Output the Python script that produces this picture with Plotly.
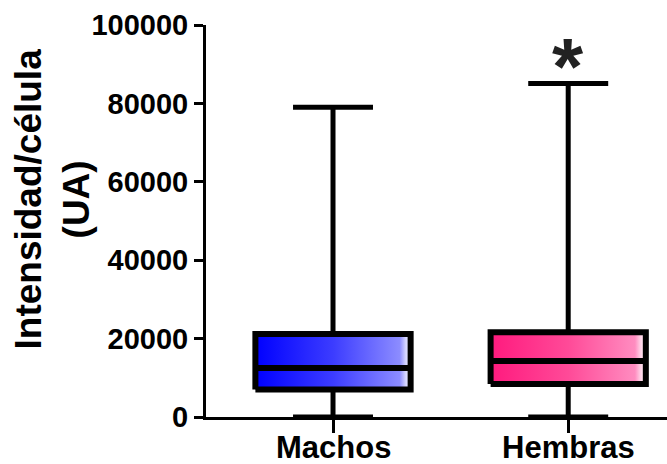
import plotly.graph_objects as go

categories = ["Machos", "Hembras"]
minimum = [0, 0]
q1 = [7000, 8400]
median = [12500, 14300]
q3 = [21200, 21600]
maximum = [79000, 85100]
y_ticks = [0, 20000, 40000, 60000, 80000, 100000]
significance = ["", "*"]

colorscales = [
    [[0, "#0000ff"], [0.5, "#3c3cff"], [0.93, "#8c8cff"], [0.97, "#d8d8ff"], [1, "#e8e8ff"]],
    [[0, "#ff1a7e"], [0.5, "#ff4a98"], [0.93, "#ff8cc0"], [0.97, "#ffd8ea"], [1, "#ffe8f2"]],
]

HALF = 0.33   # box half width (x units)
CAP = 0.17    # whisker cap half width
FONT = "Liberation Sans"

fig = go.Figure()
for i, cat in enumerate(categories):
    x0, x1 = i - HALF, i + HALF
    # gradient fill
    fig.add_trace(go.Scatter(
        x=[x0, x1, x1, x0, x0], y=[q1[i], q1[i], q3[i], q3[i], q1[i]],
        mode="lines", line=dict(width=0), fill="toself",
        fillgradient=dict(type="horizontal", colorscale=colorscales[i]),
        hoverinfo="skip", showlegend=False))
    # whiskers and caps
    fig.add_trace(go.Scatter(
        x=[i, i, None, i, i, None, i - CAP, i + CAP, None, i - CAP, i + CAP],
        y=[q3[i], maximum[i], None, q1[i], minimum[i], None,
           maximum[i], maximum[i], None, minimum[i], minimum[i]],
        mode="lines", line=dict(color="black", width=5),
        hoverinfo="skip", showlegend=False))
    # box outline and median
    fig.add_trace(go.Scatter(
        x=[x0, x1, x1, x0, x0, None, x0, x1],
        y=[q1[i], q1[i], q3[i], q3[i], q1[i], None, median[i], median[i]],
        mode="lines", line=dict(color="black", width=6),
        hoverinfo="skip", showlegend=False))
    # category label
    fig.add_annotation(x=i, y=0, xref="x", yref="paper", text="<b>%s</b>" % cat,
                       showarrow=False, xanchor="center", yanchor="top", yshift=-12,
                       borderpad=0,
                       font=dict(size=31, color="black", family=FONT))
    if significance[i]:
        fig.add_annotation(x=i, y=maximum[i], text="<b>%s</b>" % significance[i],
                           showarrow=False, xanchor="center", yanchor="bottom", yshift=-30,
                           font=dict(size=80, color="#222", family=FONT))

fig.add_annotation(xref="paper", yref="paper", x=-0.334, y=0.555,
                   xanchor="center", yanchor="middle",
                   text="<b>Intensidad/célula<br>(UA)</b>", textangle=-90,
                   showarrow=False, font=dict(size=37, color="black", family=FONT))

fig.update_layout(
    width=667, height=464,
    margin=dict(l=206, r=0, t=25, b=47, autoexpand=False),
    paper_bgcolor="white", plot_bgcolor="white",
    font=dict(family=FONT, color="black"),
    xaxis=dict(range=[-0.54, 1.42], tickvals=[0, 1], showticklabels=False,
               ticks="outside", ticklen=13, tickwidth=3, tickcolor="black",
               showline=True, linewidth=3, linecolor="black",
               showgrid=False, zeroline=False, automargin=False),
    yaxis=dict(range=[0, 100000], tickvals=y_ticks,
               ticktext=["<b>%d</b>" % v for v in y_ticks],
               ticks="outside", ticklen=9, tickwidth=3, tickcolor="black",
               showline=True, linewidth=3, linecolor="black",
               showgrid=False, zeroline=False, automargin=False,
               tickfont=dict(size=29, family=FONT)),
)

fig.write_html("out.html")
